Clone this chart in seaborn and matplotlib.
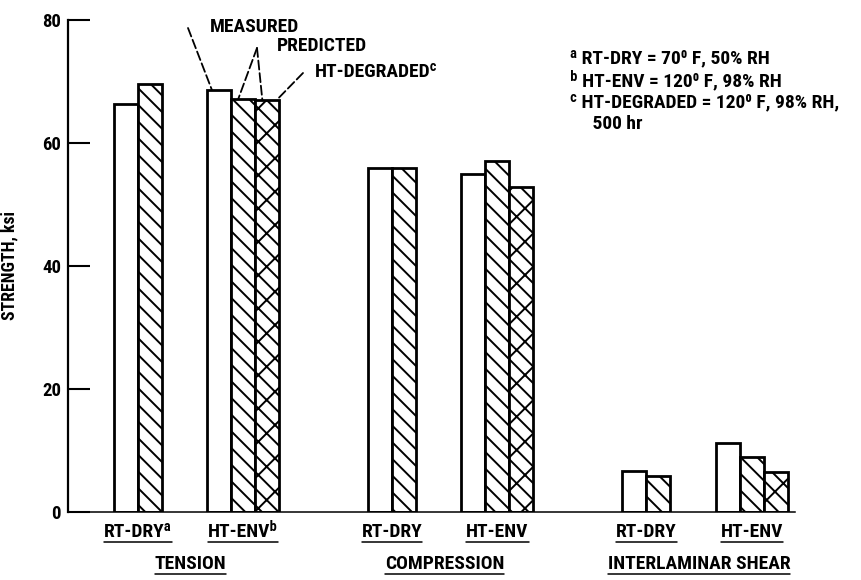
import numpy as np
import pandas as pd
import matplotlib.pyplot as plt
import seaborn as sns

# Data (strength, ksi)
loadings = ["TENSION", "COMPRESSION", "INTERLAMINAR SHEAR"]
conditions = ["RT-DRY", "HT-ENV"]
series = ["MEASURED", "PREDICTED", "HT-DEGRADED"]
measured = [66.3, 68.6, 56.0, 55.0, 6.7, 11.2]
predicted = [69.6, 67.2, 56.0, 57.0, 5.9, 9.0]
degraded = [np.nan, 67.0, np.nan, 52.9, np.nan, 6.5]
tick_labels = ["RT-DRY\u1d43", "HT-ENV\u1d47", "RT-DRY", "HT-ENV", "RT-DRY", "HT-ENV"]
notes = [
    "\u1d43 RT-DRY = 70\u2070 F, 50% RH",
    "\u1d47 HT-ENV = 120\u2070 F, 98% RH",
    "\u1d9c HT-DEGRADED = 120\u2070 F, 98% RH,",
    "     500 hr",
]

# layout of groups (in bar-width units)
first_center = 2.9
loading_gap = 10.6
condition_gap = 4.4

rows = []
centers = []
for i in range(len(measured)):
    l, c = divmod(i, 2)
    center = first_center + l * loading_gap + c * condition_gap
    centers.append(center)
    vals = [measured[i], predicted[i], degraded[i]]
    present = [(s, v) for s, v in zip(series, vals) if not np.isnan(v)]
    n = len(present)
    for k, (s, v) in enumerate(present):
        rows.append({"pos": center + k - (n - 1) / 2, "strength": v, "series": s, "group": i})
df = pd.DataFrame(rows)

sns.set_theme(style="white")
plt.rcParams["font.family"] = ["Liberation Sans Narrow", "Roboto Condensed", "DejaVu Sans Condensed",
                               "Liberation Sans", "DejaVu Sans"]
plt.rcParams["font.weight"] = "bold"
plt.rcParams["hatch.linewidth"] = 1.4
for key in ["text.color", "axes.labelcolor", "xtick.color", "ytick.color"]:
    plt.rcParams[key] = "black"

fig = plt.figure(figsize=(8.62, 5.80), dpi=100)
ax = fig.add_axes([68 / 862, 1 - 512 / 580, 727 / 862, 492 / 580])

sns.barplot(data=df, x="pos", y="strength", hue="series", hue_order=series,
            native_scale=True, dodge=False, width=1.0, errorbar=None,
            palette=["white"] * 3, edgecolor="black", linewidth=2.0,
            legend=False, ax=ax)

hatches = ["", "\\\\", "\\\\/"]
for cont, h in zip(ax.containers, hatches):
    for p in cont.patches:
        p.set_hatch(h)

ax.set_xlim(0, 30.3)
ax.set_ylim(0, 80)
ax.set_yticks([0, 20, 40, 60, 80])
ax.tick_params(axis="y", direction="in", length=16, width=1.5, pad=5, labelsize=13.5, left=True)
ax.set_xticks(centers)
ax.set_xticklabels(tick_labels, fontsize=14)
ax.tick_params(axis="x", length=0, pad=8)
ax.set_xlabel("")
ax.set_ylabel("STRENGTH, ksi", fontsize=12.8, fontweight="bold")
ax.yaxis.set_label_coords(-50 / 727, 0.5)
sns.despine(ax=ax)
ax.spines["left"].set_linewidth(1.6)
ax.spines["bottom"].set_linewidth(1.1)
ax.spines["left"].set_color("black")
ax.spines["bottom"].set_color("black")
ax.grid(False)

# loading names under each pair of conditions
cat_texts = []
for l, name in enumerate(loadings):
    xc = (centers[2 * l] + centers[2 * l + 1]) / 2
    cat_texts.append(ax.text(xc, -52 / 492, name, transform=ax.get_xaxis_transform(),
                             ha="center", va="center", fontsize=14, fontweight="bold"))

# leader-line annotations
pos = {(r.group, r.series): r.pos for r in df.itertuples()}
lead = dict(arrowstyle="-", linestyle=(0, (5, 2)), lw=1.3, color="black", shrinkA=0, shrinkB=0)
ax.annotate("", xy=(pos[(1, "MEASURED")] - 0.3, measured[1]), xytext=(188, 580 - 28),
            textcoords="figure pixels", arrowprops=lead)
ax.annotate("", xy=(pos[(1, "PREDICTED")] - 0.2, predicted[1]), xytext=(257, 580 - 48),
            textcoords="figure pixels", arrowprops=lead)
ax.annotate("", xy=(pos[(1, "HT-DEGRADED")] - 0.2, degraded[1]), xytext=(257, 580 - 48),
            textcoords="figure pixels", arrowprops=lead)
ax.annotate("", xy=(pos[(1, "HT-DEGRADED")] + 0.4, degraded[1]), xytext=(303, 580 - 73),
            textcoords="figure pixels", arrowprops=lead)
fig.text(210 / 862, 1 - 27 / 580, "MEASURED", ha="left", va="center", fontsize=14, fontweight="bold")
fig.text(277 / 862, 1 - 46 / 580, "PREDICTED", ha="left", va="center", fontsize=14, fontweight="bold")
fig.text(315 / 862, 1 - 72 / 580, "HT-DEGRADED\u1d9c", ha="left", va="center", fontsize=14, fontweight="bold")

# footnotes
for j, line in enumerate(notes):
    fig.text(570 / 862, 1 - (58 + 22 * j) / 580, line, ha="left", va="center",
             fontsize=14, fontweight="bold")

# underline the condition and loading labels (just under the baseline)
fig.canvas.draw()
renderer = fig.canvas.get_renderer()
inv = fig.transFigure.inverted()
for t in list(ax.get_xticklabels()) + cat_texts:
    bb = t.get_window_extent(renderer)
    (x0, y0), (x1, y1) = inv.transform([(bb.x0, bb.y0 - 0.5), (bb.x1, bb.y0 - 0.5)])
    fig.add_artist(plt.Line2D([x0, x1], [y0, y1], color="black", lw=1.1, transform=fig.transFigure))

fig.savefig("out.png", dpi=100)
